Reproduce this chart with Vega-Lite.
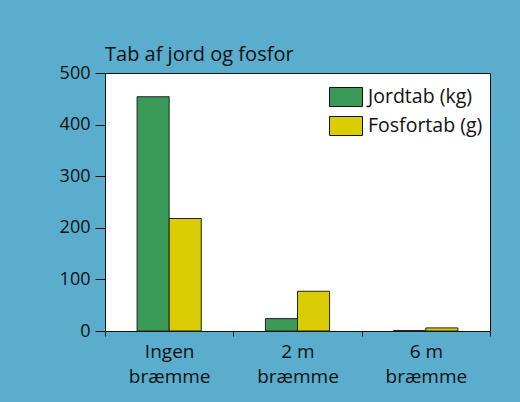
{
  "$schema": "https://vega.github.io/schema/vega-lite/v6.json",
  "autosize": "none",
  "width": 385,
  "height": 258,
  "padding": {"left": 105, "top": 73, "right": 30, "bottom": 71},
  "background": "#5aadcc",
  "title": {
    "text": "Tab af jord og fosfor",
    "anchor": "start",
    "frame": "group",
    "baseline": "alphabetic",
    "offset": 11,
    "dy": 28,
    "font": "Open Sans",
    "fontSize": 20,
    "fontWeight": "normal",
    "color": "#111111"
  },
  "data": {
    "values": [
      {"braemme": "Ingen bræmme", "serie": "Jordtab (kg)", "tab": 454},
      {"braemme": "Ingen bræmme", "serie": "Fosfortab (g)", "tab": 218},
      {"braemme": "2 m bræmme", "serie": "Jordtab (kg)", "tab": 24},
      {"braemme": "2 m bræmme", "serie": "Fosfortab (g)", "tab": 77},
      {"braemme": "6 m bræmme", "serie": "Jordtab (kg)", "tab": 1},
      {"braemme": "6 m bræmme", "serie": "Fosfortab (g)", "tab": 6}
    ]
  },
  "mark": {"type": "bar", "stroke": "#222222", "strokeWidth": 1},
  "encoding": {
    "x": {
      "field": "braemme",
      "type": "nominal",
      "sort": ["Ingen bræmme", "2 m bræmme", "6 m bræmme"],
      "scale": {"paddingInner": 0, "paddingOuter": 0},
      "axis": {
        "title": null,
        "labelAngle": 0,
        "tickBand": "extent",
        "tickSize": 5,
        "tickColor": "#111111",
        "domain": false,
        "labelExpr": "indexof(datum.label, 'bræmme') >= 0 ? [replace(datum.label, ' bræmme', ''), 'bræmme'] : ''",
        "labelLineHeight": 25,
        "labelPadding": 6,
        "labelBaseline": "top",
        "labelFont": "Open Sans",
        "labelFontSize": 19,
        "labelColor": "#111111"
      }
    },
    "xOffset": {
      "field": "serie",
      "type": "nominal",
      "sort": ["Jordtab (kg)", "Fosfortab (g)"],
      "scale": {"paddingInner": 0, "paddingOuter": 1}
    },
    "y": {
      "field": "tab",
      "type": "quantitative",
      "scale": {"domain": [0, 500], "nice": false},
      "axis": {
        "title": null,
        "values": [0, 100, 200, 300, 400, 500],
        "grid": false,
        "domain": false,
        "tickSize": 10,
        "tickColor": "#111111",
        "labelPadding": 5,
        "labelFont": "Open Sans",
        "labelFontSize": 18,
        "labelColor": "#111111"
      }
    },
    "color": {
      "field": "serie",
      "type": "nominal",
      "sort": ["Jordtab (kg)", "Fosfortab (g)"],
      "scale": {"domain": ["Jordtab (kg)", "Fosfortab (g)"], "range": ["#3a9b59", "#d9cc00"]},
      "legend": {
        "title": null,
        "orient": "none",
        "legendX": 224,
        "legendY": 7,
        "symbolType": "M-1,-0.576L1,-0.576L1,0.576L-1,0.576Z",
        "symbolSize": 1089,
        "symbolStrokeColor": "#111111",
        "symbolStrokeWidth": 1,
        "symbolOpacity": 1,
        "rowPadding": -11,
        "labelOffset": 5,
        "labelFont": "Open Sans",
        "labelFontSize": 19.5,
        "labelColor": "#111111"
      }
    }
  },
  "config": {
    "view": {"fill": "white", "stroke": "#111111", "strokeWidth": 1}
  }
}
